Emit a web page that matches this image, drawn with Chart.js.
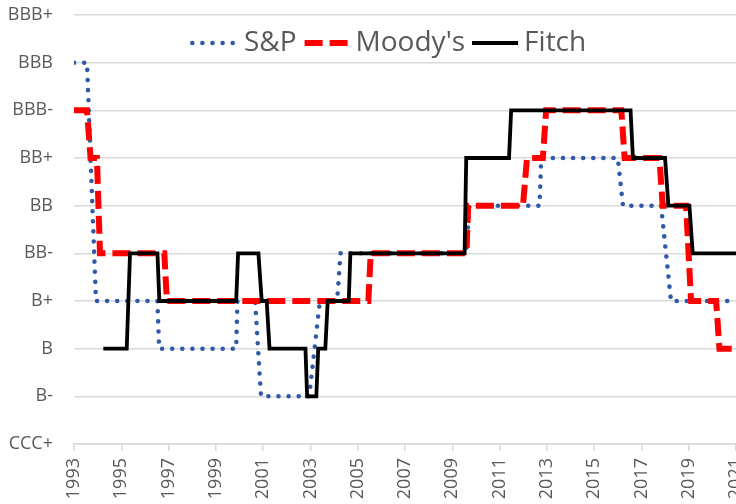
<!DOCTYPE html>
<html lang="en">
<head>
  <meta charset="UTF-8">
  <title>Sovereign ratings</title>
  <script src="https://cdn.jsdelivr.net/npm/chart.js"></script>
  <style>
    html, body {
      margin: 0;
      padding: 0;
      background: #ffffff;
      overflow: hidden;
    }
    .chart-box {
      width: 736px;
      height: 504px;
      position: relative;
    }
  </style>
</head>
<body>
  <div class="chart-box">
    <canvas id="ratingChart"></canvas>
  </div>

  <script>
// Rating scale, bottom to top
const ratingLabels = ['CCC+', 'B-', 'B', 'B+', 'BB-', 'BB', 'BB+', 'BBB-', 'BBB', 'BBB+'];

// Rating history per agency: [year, rating]
const spRatings = [
  [1993.0, 'BBB'], [1993.55, 'BBB'], [1993.93, 'B+'], [1996.53, 'B+'], [1996.6, 'B'],
  [1999.86, 'B'], [1999.91, 'B+'], [2000.66, 'B+'], [2000.91, 'B-'], [2002.95, 'B-'],
  [2003.4, 'B+'], [2004.13, 'B+'], [2004.27, 'BB-'], [2009.59, 'BB-'], [2009.72, 'BB'],
  [2012.69, 'BB'], [2012.76, 'BB+'], [2016.0, 'BB+'], [2016.22, 'BB'], [2017.83, 'BB'],
  [2018.25, 'B+'], [2021.0, 'B+']
];
const moodysRatings = [
  [1993.0, 'BBB-'], [1993.55, 'BBB-'], [1993.7, 'BB+'], [1993.97, 'BB+'], [1994.1, 'BB-'],
  [1996.82, 'BB-'], [1996.93, 'B+'], [2005.45, 'B+'], [2005.55, 'BB-'], [2009.6, 'BB-'],
  [2009.67, 'BB'], [2011.99, 'BB'], [2012.16, 'BB+'], [2012.83, 'BB+'], [2012.97, 'BBB-'],
  [2016.15, 'BBB-'], [2016.29, 'BB+'], [2017.76, 'BB+'], [2017.9, 'BB'], [2018.89, 'BB'],
  [2019.1, 'B+'], [2020.16, 'B+'], [2020.3, 'B'], [2021.0, 'B']
];
const fitchRatings = [
  [1994.24, 'B'], [1995.23, 'B'], [1995.37, 'BB-'], [1996.53, 'BB-'], [1996.61, 'B+'],
  [1999.86, 'B+'], [1999.94, 'BB-'], [2000.8, 'BB-'], [2000.94, 'B+'], [2001.15, 'B+'],
  [2001.27, 'B'], [2002.79, 'B'], [2002.86, 'B-'], [2003.25, 'B-'], [2003.33, 'B'],
  [2003.63, 'B'], [2003.73, 'B+'], [2004.62, 'B+'], [2004.69, 'BB-'], [2009.52, 'BB-'],
  [2009.59, 'BB+'], [2011.4, 'BB+'], [2011.49, 'BBB-'], [2016.54, 'BBB-'], [2016.64, 'BB+'],
  [2018.0, 'BB+'], [2018.14, 'BB'], [2019.03, 'BB'], [2019.17, 'BB-'], [2021.0, 'BB-']
];

// X axis range and tick step (years)
const yearMin = 1993;
const yearMax = 2021;
const yearStep = 2;

const toPoints = (rows) => rows.map(([year, rating]) => ({ x: year, y: ratingLabels.indexOf(rating) }));

const textGray = '#595959';
const gridGray = '#d9d9d9';
const fontFamily = "'Open Sans', 'Liberation Sans', sans-serif";

// Legend drawn over the plot, like the Excel one
const insideLegend = {
  id: 'insideLegend',
  afterDraw(chart, args, opts) {
    const ctx = chart.ctx;
    ctx.save();
    ctx.font = opts.fontSize + 'px ' + fontFamily;
    ctx.textBaseline = 'middle';
    let x = opts.left;
    const y = opts.y;
    chart.data.datasets.forEach((ds) => {
      ctx.beginPath();
      ctx.setLineDash(ds.borderDash || []);
      ctx.lineCap = ds.borderCapStyle || 'butt';
      ctx.lineWidth = ds.borderWidth;
      ctx.strokeStyle = ds.borderColor;
      ctx.moveTo(x + ctx.lineWidth / 2, y);
      ctx.lineTo(x + opts.boxWidth, y);
      ctx.stroke();
      x += opts.boxWidth + opts.textGap;
      ctx.setLineDash([]);
      ctx.fillStyle = textGray;
      ctx.fillText(ds.label, x, y);
      x += ctx.measureText(ds.label).width + opts.itemGap;
    });
    ctx.restore();
  }
};

new Chart(document.getElementById('ratingChart'), {
  type: 'line',
  data: {
    datasets: [
      {
        label: 'S&P',
        data: toPoints(spRatings),
        borderColor: '#2E5AA8',
        borderWidth: 4.5,
        borderDash: [0.1, 10],
        borderCapStyle: 'round',
        order: 2
      },
      {
        label: "Moody's",
        data: toPoints(moodysRatings),
        borderColor: '#FF0000',
        borderWidth: 6,
        borderDash: [18, 7],
        borderCapStyle: 'butt',
        order: 1
      },
      {
        label: 'Fitch',
        data: toPoints(fitchRatings),
        borderColor: '#000000',
        borderWidth: 3.8,
        borderCapStyle: 'butt',
        order: 0
      }
    ]
  },
  options: {
    responsive: true,
    maintainAspectRatio: false,
    animation: false,
    layout: {
      padding: { left: 8, top: 15, right: 0, bottom: 0 }
    },
    elements: {
      point: { radius: 0 },
      line: { tension: 0, fill: false, borderJoinStyle: 'miter' }
    },
    scales: {
      x: {
        type: 'linear',
        min: yearMin,
        max: yearMax,
        // let the last year label run off the right edge, as in the source
        afterFit: (scale) => {
          scale.height = 60;
          scale.paddingRight = 0;
        },
        ticks: {
          stepSize: yearStep,
          autoSkip: false,
          minRotation: 90,
          maxRotation: 90,
          padding: 7,
          color: textGray,
          font: { family: fontFamily, size: 18 },
          callback: (v) => String(v)
        },
        grid: {
          drawOnChartArea: false,
          drawTicks: true,
          tickLength: 7,
          color: gridGray,
          lineWidth: 1.5
        },
        border: { color: gridGray, width: 1.5 }
      },
      y: {
        min: 0,
        max: ratingLabels.length - 1,
        afterFit: (scale) => {
          scale.width = 66;
          scale.paddingTop = 0;
          scale.paddingBottom = 0;
        },
        ticks: {
          stepSize: 1,
          padding: 21,
          color: textGray,
          font: { family: fontFamily, size: 18 },
          callback: (v) => ratingLabels[v]
        },
        grid: {
          drawTicks: false,
          color: gridGray,
          lineWidth: 1.5
        },
        border: { display: false }
      }
    },
    plugins: {
      legend: { display: false },
      tooltip: { enabled: false },
      insideLegend: {
        left: 190,
        y: 43,
        boxWidth: 48,
        textGap: 6,
        itemGap: 5,
        fontSize: 28
      }
    }
  },
  plugins: [insideLegend]
});
  </script>
</body>
</html>
